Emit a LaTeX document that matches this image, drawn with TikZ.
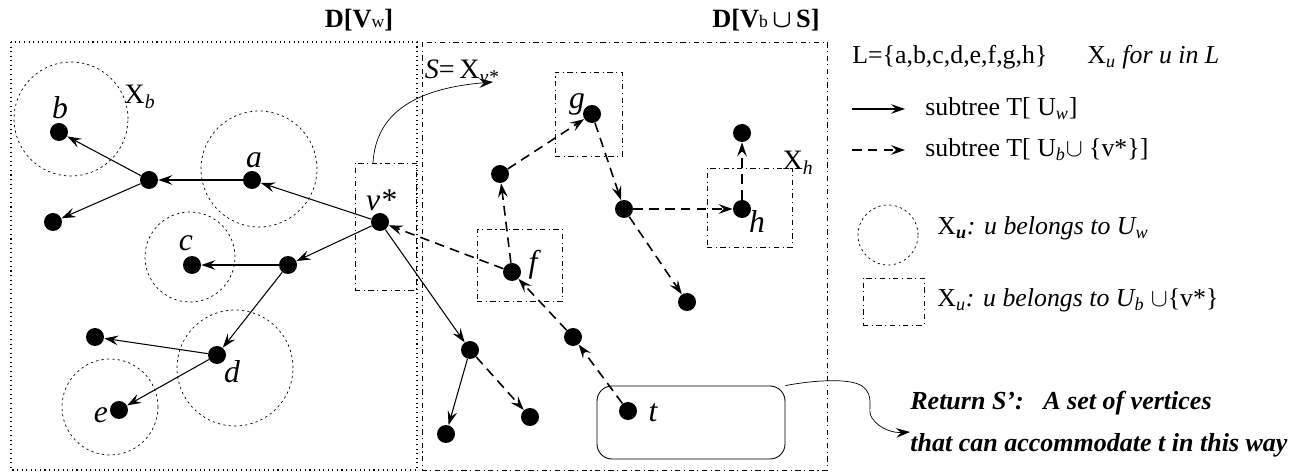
\documentclass[tikz,border=0pt]{standalone}
\usepackage{fontspec}
\setmainfont{Liberation Serif}
\usetikzlibrary{arrows.meta}

\tikzset{
  vtx/.style={circle, fill, inner sep=0pt, minimum size=3.6mm},
  lbl/.style={inner sep=0pt, font=\fontsize{18}{18}\selectfont\itshape},
  xlbl/.style={inner sep=0pt, font=\fontsize{16}{16}\selectfont},
  lgd/.style={inner sep=0pt, anchor=west, font=\fontsize{14.7}{14.7}\selectfont},
  ttl/.style={inner sep=0pt, font=\fontsize{15}{15}\selectfont\bfseries\boldmath},
  xcirc/.style={circle, draw, inner sep=0pt, line width=0.4pt, dash pattern=on 1.3pt off 1.8pt},
  xsq/.style={rectangle, draw, inner sep=0pt, line width=0.4pt, dash pattern=on 3pt off 2pt on 0.6pt off 2pt},
  tarr/.style={-{Stealth[length=8pt,width=5.5pt,inset=3pt]}, line width=0.6pt},
  barr/.style={tarr, line width=0.9pt, dash pattern=on 5.5pt off 3.5pt}
}

\begin{document}
\begin{tikzpicture}[x=0.2mm, y=-0.2mm]
  \useasboundingbox (0,0) rectangle (1304,476);

  % regions
  \draw[line width=0.6pt, dotted] (11,42) rectangle (417,470);
  \draw[line width=0.4pt, dash pattern=on 3pt off 2pt on 0.6pt off 2pt] (422,42) rectangle (827,470);
  \node[ttl] (tw) at (359,20) {D[V{\fontsize{10}{10}\selectfont\mdseries w}]};
  \node[ttl] (tb) at (766,20) {D[V{\fontsize{10}{10}\selectfont\mdseries b}\,$\cup$\,S]};

  % sets X_u
  \node[xcirc, minimum size=22.8mm] (Xb) at (71,119) {};
  \node[xcirc, minimum size=23.2mm] (Xa) at (259,169) {};
  \node[xcirc, minimum size=18mm] (Xc) at (190,257) {};
  \node[xcirc, minimum size=23.2mm] (Xd) at (235,368) {};
  \node[xcirc, minimum size=19.2mm] (Xe) at (110,407) {};
  \node[xsq, minimum width=12.2mm, minimum height=25.4mm] (Xv) at (385.5,226.5) {};
  \node[xsq, minimum width=13.4mm, minimum height=16.8mm] (Xg) at (588.5,114) {};
  \node[xsq, minimum width=17mm, minimum height=15.8mm] (Xh) at (749.5,207.5) {};
  \node[xsq, minimum width=17mm, minimum height=14.4mm] (Xf) at (519.5,265) {};
  \node[xlbl] (lXb) at (140,97) {X\textsubscript{\itshape b}};
  \node[xlbl] (lXh) at (798,163) {X\textsubscript{\itshape h}};
  \node[xlbl] (lS) at (462,72) {\textit{S}=\,X\textsubscript{\itshape v*}};

  % vertices
  \node[vtx] (b) at (59,132) {};
  \node[vtx] (p1) at (149,180) {};
  \node[vtx] (p2) at (53,222) {};
  \node[vtx] (a) at (252,180) {};
  \node[vtx] (v) at (380,222) {};
  \node[vtx] (p3) at (288,265) {};
  \node[vtx] (c) at (192,265) {};
  \node[vtx] (d) at (217,355) {};
  \node[vtx] (p4) at (95,337) {};
  \node[vtx] (e) at (119,410) {};
  \node[vtx] (p5) at (470,350) {};
  \node[vtx] (p6) at (446,434) {};
  \node[vtx] (p7) at (530,417) {};
  \node[vtx] (f) at (512,272) {};
  \node[vtx] (p8) at (573,337) {};
  \node[vtx] (t) at (628,411) {};
  \node[vtx] (p9) at (687,302) {};
  \node[vtx] (g) at (592,114) {};
  \node[vtx] (p10) at (500,174) {};
  \node[vtx] (p11) at (624,209) {};
  \node[vtx] (h) at (742,209) {};
  \node[vtx] (p12) at (742,133) {};

  \node[lbl] (lb) at (60,108) {b};
  \node[lbl] (la) at (254,160) {a};
  \node[lbl] (lc) at (186,243) {c};
  \node[lbl] (ld) at (232,372) {d};
  \node[lbl] (le) at (101,415) {e};
  \node[lbl] (lv) at (381,200) {v*};
  \node[lbl] (lf) at (533,265) {f};
  \node[lbl] (lg) at (577,104) {g};
  \node[lbl] (lh) at (757,222) {h};
  \node[lbl] (lt) at (653,413) {t};

  % subtree T[U_w]
  \draw[tarr] (p1) -- (b);
  \draw[tarr] (p1) -- (p2);
  \draw[tarr] (a) -- (p1);
  \draw[tarr] (v) -- (a);
  \draw[tarr] (v) -- (p3);
  \draw[tarr] (p3) -- (c);
  \draw[tarr] (p3) -- (d);
  \draw[tarr] (d) -- (p4);
  \draw[tarr] (d) -- (e);
  \draw[tarr] (v) -- (p5);
  \draw[tarr] (p5) -- (p6);

  % subtree T[U_b + v*]
  \draw[barr] (f) -- (v);
  \draw[barr] (f) -- (p10);
  \draw[barr] (p10) -- (g);
  \draw[barr] (g) -- (p11);
  \draw[barr] (p11) -- (h);
  \draw[barr] (h) -- (p12);
  \draw[barr] (p11) -- (p9);
  \draw[barr] (t) -- (p8);
  \draw[barr] (p8) -- (f);
  \draw[barr] (p5) -- (p7);

  % S = X_v*
  \coordinate (s0) at (373,163);
  \coordinate (s1) at (493,82);
  \draw[-{Stealth[length=8pt,width=5.5pt,inset=3pt]}, line width=0.4pt] (s0) .. controls (376,110) and (420,88) .. (s1);

  % return S'
  \node[draw, rounded corners=3mm, line width=0.5pt, minimum width=37.6mm, minimum height=14.6mm] (ret) at (691,422.5) {};
  \coordinate (r1) at (862,386);
  \coordinate (r2) at (872,418);
  \coordinate (r3) at (910,432);
  \draw[-{Stealth[length=8pt,width=5.5pt,inset=3pt]}, line width=0.4pt] (ret.north east) .. controls (815,380) and (850,378) .. (r1) .. controls (876,396) and (866,410) .. (r2) .. controls (880,430) and (895,433) .. (r3);
  \node[lgd, font=\fontsize{14.8}{14.8}\selectfont\bfseries\itshape] (rt1) at (910,403) {Return S’:\ \ \ A set of vertices};
  \node[lgd, font=\fontsize{14.8}{14.8}\selectfont\bfseries\itshape] (rt2) at (910,445) {that can accommodate t in this way};

  % legend
  \node[lgd] (lL) at (852,57) {L=\{a,b,c,d,e,f,g,h\}};
  \node[lgd] (lXu) at (1087,57) {X\textsubscript{\itshape u} \textit{for u in L}};
  \coordinate (k1) at (852,109);
  \coordinate (k2) at (905,109);
  \draw[tarr] (k1) -- (k2);
  \node[lgd] (lk1) at (925,109) {subtree T[ U\textsubscript{\itshape w}]};
  \coordinate (k3) at (852,150);
  \coordinate (k4) at (905,150);
  \draw[barr] (k3) -- (k4);
  \node[lgd] (lk2) at (925,150) {subtree T[ U\textsubscript{\itshape b}$\cup$ \{v*\}]};
  \node[xcirc, minimum size=12mm] (kc) at (888,235) {};
  \node[lgd] (lkc) at (937,228) {X\textsubscript{\bfseries\itshape u}\textit{: u belongs to U\textsubscript{w}}};
  \node[xsq, minimum width=12.2mm, minimum height=9.4mm] (ks) at (893.5,301.5) {};
  \node[lgd] (lks) at (937,300) {X\textsubscript{\itshape u}\textit{: u belongs to U\textsubscript{b}} $\cup$\{v*\}};
\end{tikzpicture}
\end{document}
